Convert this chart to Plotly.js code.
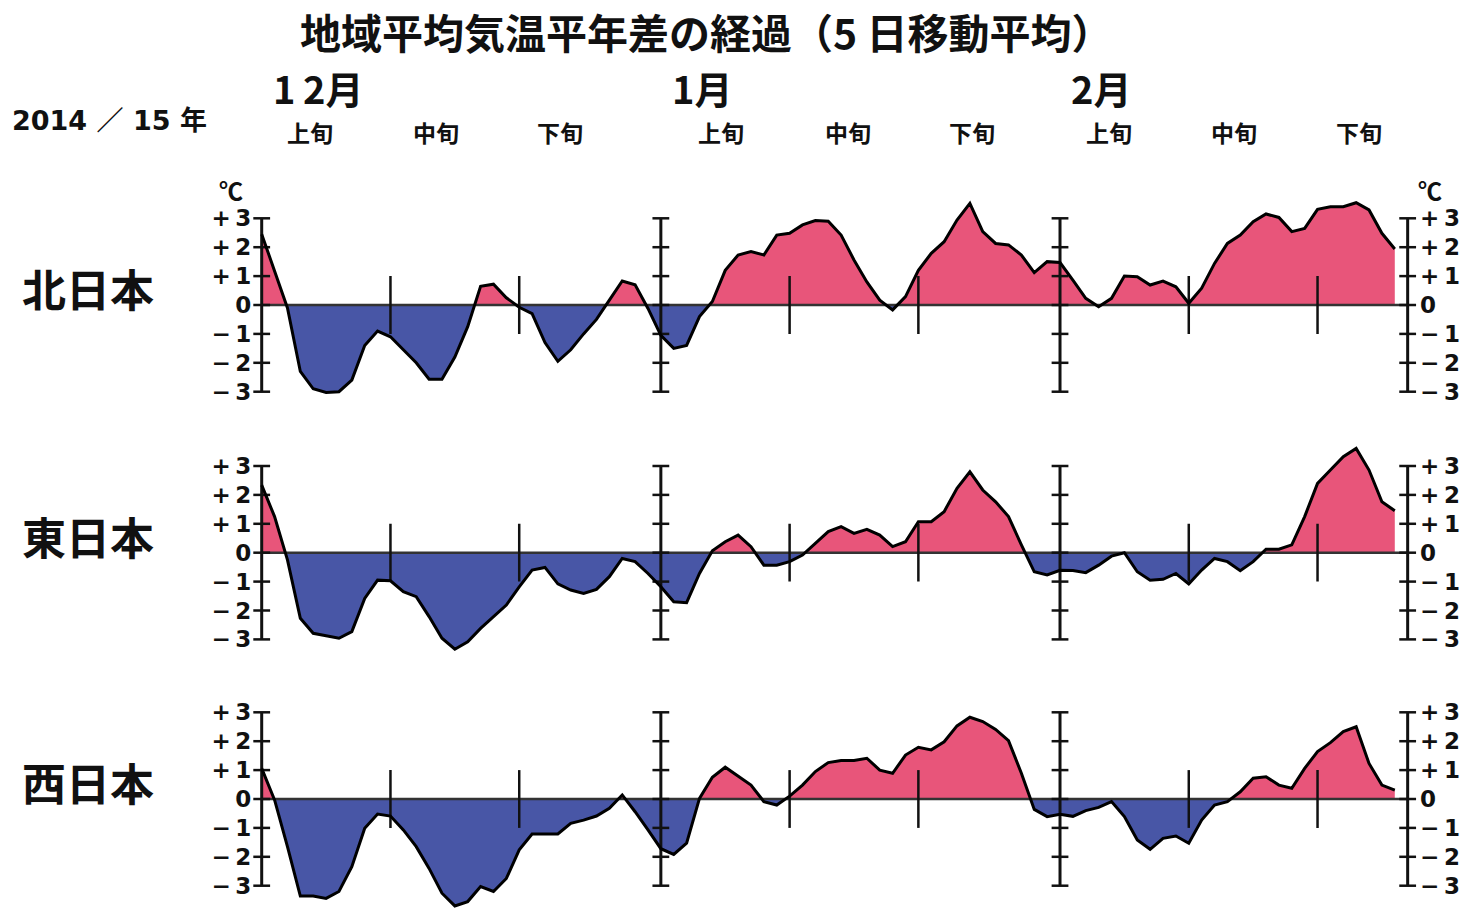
<!DOCTYPE html>
<html><head><meta charset="utf-8">
<script src="https://cdn.plot.ly/plotly-3.0.1.min.js"></script>
<style>html,body{margin:0;padding:0;background:#fff}</style>
</head><body><div id="chart" style="width:1472px;height:908px"></div>
<script>
// ---- data (daily 5-day running mean anomaly, from 2014-12-01; index = days since Dec 1) ----
const regions = ['北日本', '東日本', '西日本'];
const north = [2.45, 1.2, -0.1, -2.3, -2.9, -3.03, -3.0, -2.6, -1.4, -0.9,
  -1.1, -1.55, -2.0, -2.57, -2.57, -1.8, -0.75, 0.65, 0.72, 0.25,
  -0.08, -0.3, -1.3, -1.95, -1.55, -1.0, -0.5, 0.17, 0.83, 0.7,
  -0.12, -1.05, -1.5, -1.4, -0.4, 0.12, 1.2, 1.73, 1.85, 1.73,
  2.42, 2.48, 2.77, 2.92, 2.9, 2.42, 1.56, 0.8, 0.17, -0.17,
  0.29, 1.2, 1.79, 2.19, 2.94, 3.52, 2.54, 2.13, 2.08, 1.73,
  1.12, 1.5, 1.47, 0.86, 0.23, -0.06, 0.23, 1.0, 0.98, 0.69,
  0.83, 0.63, 0.06, 0.58, 1.44, 2.13, 2.42, 2.88, 3.15, 3.03,
  2.54, 2.65, 3.31, 3.4, 3.4, 3.54, 3.29, 2.48, 1.94];
const east = [2.34, 1.25, -0.25, -2.27, -2.79, -2.88, -2.96, -2.73, -1.58, -0.95,
  -0.97, -1.35, -1.52, -2.21, -2.96, -3.34, -3.08, -2.62, -2.21, -1.81,
  -1.18, -0.6, -0.51, -1.08, -1.29, -1.41, -1.27, -0.83, -0.2, -0.31,
  -0.72, -1.18, -1.7, -1.73, -0.72, 0.07, 0.38, 0.61, 0.21, -0.43,
  -0.43, -0.31, -0.08, 0.32, 0.73, 0.9, 0.67, 0.81, 0.61, 0.21,
  0.38, 1.07, 1.07, 1.42, 2.23, 2.8, 2.17, 1.76, 1.25, 0.27,
  -0.66, -0.77, -0.61, -0.62, -0.69, -0.43, -0.12, 0.0, -0.66, -0.95,
  -0.92, -0.72, -1.08, -0.6, -0.2, -0.31, -0.62, -0.31, 0.12, 0.12,
  0.27, 1.25, 2.4, 2.86, 3.32, 3.61, 2.86, 1.76, 1.45];
const west = [1.06, -0.03, -1.65, -3.36, -3.36, -3.44, -3.2, -2.34, -1.01, -0.52,
  -0.59, -1.07, -1.65, -2.4, -3.26, -3.7, -3.55, -3.03, -3.2, -2.75,
  -1.76, -1.21, -1.21, -1.21, -0.84, -0.73, -0.59, -0.32, 0.14, -0.44,
  -1.07, -1.72, -1.92, -1.53, 0.02, 0.75, 1.1, 0.8, 0.48, -0.09,
  -0.21, 0.1, 0.48, 0.95, 1.26, 1.33, 1.33, 1.41, 1.0, 0.89,
  1.52, 1.79, 1.7, 1.98, 2.53, 2.83, 2.68, 2.41, 2.02, 0.89,
  -0.36, -0.61, -0.53, -0.6, -0.4, -0.29, -0.09, -0.61, -1.42, -1.74,
  -1.36, -1.28, -1.53, -0.73, -0.21, -0.09, 0.25, 0.72, 0.77, 0.48,
  0.37, 1.06, 1.64, 1.95, 2.33, 2.5, 1.23, 0.48, 0.31];
const monthLabels = ['1\u20092月', '1月', '2月'];
const monthStartDays = [0, 31, 62];
const periodEndDay = 89;
const dekadNames = ['上旬', '中旬', '下旬'];
const dekadTickDays = [10, 20, 41, 51, 72, 82];
const yTickVals = [-3, -2, -1, 0, 1, 2, 3];
const yTickText = ['\u2212\u20093', '\u2212\u20092', '\u2212\u20091', '0', '+\u20091', '+\u20092', '+\u20093'];
const titleText = '地域平均気温平年差の経過（5 日移動平均）';
const seasonText = '2014 ／ 15 年';
const unitText = '℃';

// ---- style / layout ----
const W = 1472, H = 908;
const PX_PER_DAY = 12.876, X0 = 261.7;            // pixel of day 0
const PX_PER_DEG = 28.9;
const zeroPix = [305, 552.7, 799];
const yRanges = [[-3.5, 3.75], [-3.5, 3.75], [-3.77, 3.75]];
const RED = '#E8557A', BLUE = '#4856A6', INK = '#111111';
const JP = '"Noto Sans CJK JP", "Noto Sans", sans-serif';
const NUM = '"DejaVu Sans", "Noto Sans CJK JP", sans-serif';
const axisDays = monthStartDays.concat([periodEndDay]);
const series = [north, east, west];
const xDays = north.map((_, i) => i);

function split(vals, positive) {
  const xs = [], ys = [];
  for (let i = 0; i < vals.length; i++) {
    const v = vals[i];
    xs.push(i); ys.push(positive ? Math.max(v, 0) : Math.min(v, 0));
    if (i < vals.length - 1) {
      const w = vals[i + 1];
      if (v * w < 0) { xs.push(i + v / (v - w)); ys.push(0); }
    }
  }
  return {x: xs, y: ys};
}

const xr = [-0.5, periodEndDay + 0.5];
const xDom = [(X0 + xr[0] * PX_PER_DAY) / W, (X0 + xr[1] * PX_PER_DAY) / W];

const traces = [];
const layout = {
  width: W, height: H, margin: {l: 0, r: 0, t: 0, b: 0},
  paper_bgcolor: '#fff', plot_bgcolor: 'rgba(0,0,0,0)',
  showlegend: false, hovermode: false,
  font: {family: JP, color: INK},
  xaxis: {domain: xDom, range: xr, visible: false, fixedrange: true},
  annotations: [], shapes: []
};

series.forEach((vals, k) => {
  const ya = k === 0 ? 'y' : 'y' + (k + 1);
  const yaR = 'y' + (k + 4);
  const r = yRanges[k];
  const top = zeroPix[k] - r[1] * PX_PER_DEG, bot = zeroPix[k] - r[0] * PX_PER_DEG;
  const dom = [Math.max(0, (H - bot) / H), (H - top) / H];
  const axBase = {domain: dom, range: r, showgrid: false, zeroline: false, showline: false,
    ticks: '', tickvals: yTickVals, ticktext: yTickText.map(t => '<b>' + t + '</b>'),
    tickfont: {family: NUM, size: 23, color: INK}, fixedrange: true};
  layout['yaxis' + (k === 0 ? '' : k + 1)] = Object.assign({}, axBase, {anchor: 'x', ticklabelstandoff: 3});
  layout['yaxis' + (k + 4)] = Object.assign({}, axBase, {anchor: 'x', overlaying: ya, side: 'right', ticklabelstandoff: 5});

  const pos = split(vals, true), neg = split(vals, false);
  traces.push({x: pos.x, y: pos.y, xaxis: 'x', yaxis: ya, mode: 'lines', line: {width: 0, color: RED},
               fill: 'tozeroy', fillcolor: RED, hoverinfo: 'skip'});
  traces.push({x: neg.x, y: neg.y, xaxis: 'x', yaxis: ya, mode: 'lines', line: {width: 0, color: BLUE},
               fill: 'tozeroy', fillcolor: BLUE, hoverinfo: 'skip'});
  // zero line
  traces.push({x: [axisDays[0], periodEndDay], y: [0, 0], xaxis: 'x', yaxis: ya, mode: 'lines',
               line: {color: '#333', width: 2.5}, hoverinfo: 'skip'});
  // month axes with ticks
  axisDays.forEach(d => {
    traces.push({x: yTickVals.map(() => d), y: yTickVals, xaxis: 'x', yaxis: ya, mode: 'lines+markers',
      line: {color: INK, width: 3}, cliponaxis: false,
      marker: {symbol: 'line-ew', size: 12, color: INK, line: {color: INK, width: 2.5}}, hoverinfo: 'skip'});
  });
  // dekad ticks
  const dx = [], dy = [];
  dekadTickDays.forEach(d => { dx.push(d, d, null); dy.push(-1, 1, null); });
  traces.push({x: dx, y: dy, xaxis: 'x', yaxis: ya, mode: 'lines', line: {color: INK, width: 2.5}, hoverinfo: 'skip'});
  // data line
  traces.push({x: xDays, y: vals, xaxis: 'x', yaxis: ya, mode: 'lines', name: regions[k],
               line: {color: '#000', width: 3}, hoverinfo: 'skip'});
  // anchor trace for right-hand axis
  traces.push({x: [0], y: [0], xaxis: 'x', yaxis: yaR, mode: 'markers', marker: {opacity: 0}, hoverinfo: 'skip'});

  // region label
  layout.annotations.push({text: '<b>' + regions[k] + '</b>', xref: 'paper', yref: ya, x: 88 / W, y: 0,
    yshift: 17, xanchor: 'center', yanchor: 'middle', showarrow: false, font: {family: JP, size: 44, color: INK}});
});

// title
layout.annotations.push({text: '<b>' + titleText + '</b>', xref: 'paper', yref: 'paper', x: 706 / W, y: 1 - 31 / H,
  xanchor: 'center', yanchor: 'middle', showarrow: false, font: {family: JP, size: 41, color: INK}});
// header: months
monthLabels.forEach((m, i) => {
  layout.annotations.push({text: '<b>' + m + '</b>', xref: 'x', yref: 'paper', x: monthStartDays[i], xshift: 9,
    y: 1 - 88 / H, xanchor: 'left', yanchor: 'middle', showarrow: false, font: {family: JP, size: 38, color: INK}});
});
// header: dekads
const dekadLabelDays = [3.75, 13.5, 23.2, 35.7, 45.5, 55.2, 65.8, 75.5, 85.2];
dekadLabelDays.forEach((d, i) => {
  layout.annotations.push({text: '<b>' + dekadNames[i % 3] + '</b>', xref: 'x', yref: 'paper', x: d,
    y: 1 - 132 / H, xanchor: 'center', yanchor: 'middle', showarrow: false, font: {family: JP, size: 23, color: INK}});
});
layout.annotations.push({text: '<b>' + seasonText + '</b>', xref: 'paper', yref: 'paper', x: 10 / W, y: 1 - 120 / H,
  xanchor: 'left', yanchor: 'middle', showarrow: false, font: {family: NUM, size: 27, color: INK}});
[231, 1430].forEach(px => {
  layout.annotations.push({text: '<b>' + unitText + '</b>', xref: 'paper', yref: 'paper', x: px / W, y: 1 - 190 / H,
    xanchor: 'center', yanchor: 'middle', showarrow: false, font: {family: JP, size: 24, color: INK}});
});

Plotly.newPlot('chart', traces, layout, {staticPlot: true, displayModeBar: false});
</script></body></html>
